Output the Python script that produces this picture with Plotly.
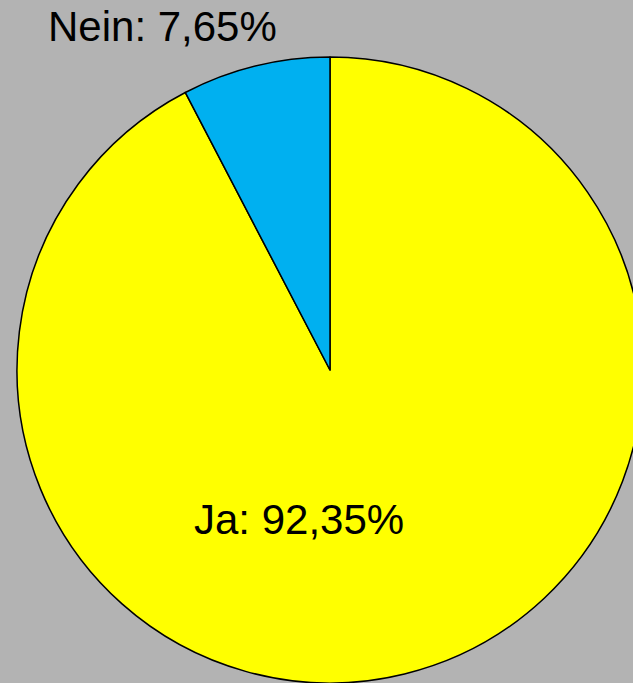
import plotly.graph_objects as go

labels = ["Ja", "Nein"]
values = [92.35, 7.65]
colors = ["#ffff00", "#00b0f0"]

W, H = 660, 683

fig = go.Figure(go.Pie(
    labels=labels,
    values=values,
    sort=False,
    direction="clockwise",
    rotation=0,
    marker=dict(colors=colors, line=dict(color="black", width=1.5)),
    textinfo="none",
    hoverinfo="label+percent",
    domain=dict(x=[0, 1], y=[0, 626 / H]),
    showlegend=False,
))

def fmt(lbl, v):
    return f"{lbl}: {v:.2f}".replace(".", ",") + "%"

label_pos = {"Nein": (162, 27), "Ja": (298.5, 519)}
for lbl, v in zip(labels, values):
    px, py = label_pos[lbl]
    fig.add_annotation(
        text=fmt(lbl, v), x=px / W, y=1 - py / H, xref="paper", yref="paper",
        xanchor="center", yanchor="middle", showarrow=False,
        font=dict(family="Liberation Sans, Arial", size=42, color="black"),
    )

fig.update_layout(
    width=W, height=H, autosize=False,
    margin=dict(l=0, r=0, t=0, b=0),
    paper_bgcolor="#b3b3b3", plot_bgcolor="#b3b3b3",
)

fig.write_html("out.html", config={"displayModeBar": False},
               post_script="document.body.style.margin='0';document.body.style.overflow='hidden';document.documentElement.style.overflow='hidden';")
